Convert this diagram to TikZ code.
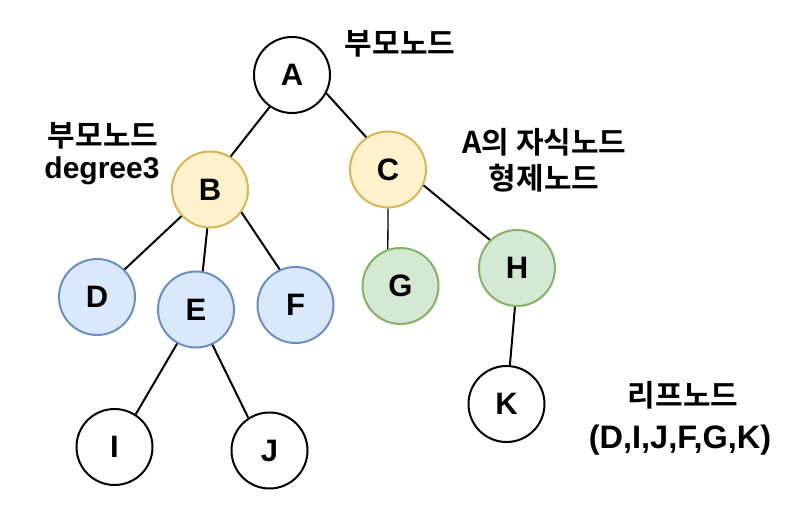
\documentclass[tikz,border=0pt]{standalone}
\usepackage{fontspec}
\setmainfont{Liberation Sans}
\newfontfamily\krfont{Noto Sans CJK KR Bold}
\definecolor{yfill}{HTML}{FFF2CC}\definecolor{ydraw}{HTML}{D6B656}
\definecolor{bfill}{HTML}{DAE8FC}\definecolor{bdraw}{HTML}{6C8EBF}
\definecolor{gfill}{HTML}{D5E8D4}\definecolor{gdraw}{HTML}{82B366}
\tikzset{
  tnode/.style={circle,draw=black,fill=white,line width=2pt,minimum size=76pt,inner sep=0pt,
    font=\fontsize{31}{37}\selectfont\bfseries},
  ynode/.style={tnode,draw=ydraw,fill=yfill},
  bnode/.style={tnode,draw=bdraw,fill=bfill},
  gnode/.style={tnode,draw=gdraw,fill=gfill},
  edge/.style={line width=2pt,black},
  thinedge/.style={line width=1.3pt,black},
  krlab/.style={anchor=base,inner sep=0pt,font=\krfont\fontsize{30}{36}\selectfont},
  enlab/.style={anchor=base,inner sep=0pt,font=\fontsize{30}{36}\selectfont\bfseries},
}
\begin{document}
\begin{tikzpicture}[x=1pt,y=-1pt]
\useasboundingbox (0,0) rectangle (792,514);
\node[tnode] (A) at (292,75) {A};
\node[ynode] (B) at (210,189.5) {B};
\node[ynode] (C) at (388,169.5) {C};
\node[bnode] (D) at (97,297) {D};
\node[bnode] (E) at (196,309.5) {E};
\node[bnode] (F) at (295.5,305) {F};
\node[gnode] (G) at (400.5,286) {G};
\node[gnode] (H) at (517,268) {H};
\node[tnode] (I) at (114.5,447) {I};
\node[tnode] (J) at (269.5,450.5) {J};
\node[tnode] (K) at (506.5,404) {K};
\draw[edge] (A.-125.7) -- (B.58.2);
\draw[edge] (A.-28.5) -- (C.124);
\draw[edge] (B.-137.5) -- (D.45);
\draw[edge] (B.-94.7) -- (E.80);
\draw[edge] (B.-36.3) -- (F.114.6);
\draw[edge] (E.-119.4) -- (I.57);
\draw[edge] (E.-65.3) -- (J.123.5);
\draw[thinedge] (C.-90) -- (G.109);
\draw[edge] (C.-24) -- (H.134);
\draw[edge] (H.-93) -- (K.85);
\node[krlab] (t1) at (400,54) {부모노드};
\node[krlab] (t2) at (103,146) {부모노드};
\node[enlab] (t3) at (102,178.3) {degree3};
\node[krlab] (t4) at (544.5,153.5) {A의 자식노드};
\node[krlab] (t5) at (544,189.5) {형제노드};
\node[krlab] (t6) at (683,406.5) {리프노드};
\node[enlab,font=\fontsize{32.5}{38}\selectfont\bfseries] (t7) at (680,448.3) {(D,I,J,F,G,K)};
\end{tikzpicture}
\end{document}
